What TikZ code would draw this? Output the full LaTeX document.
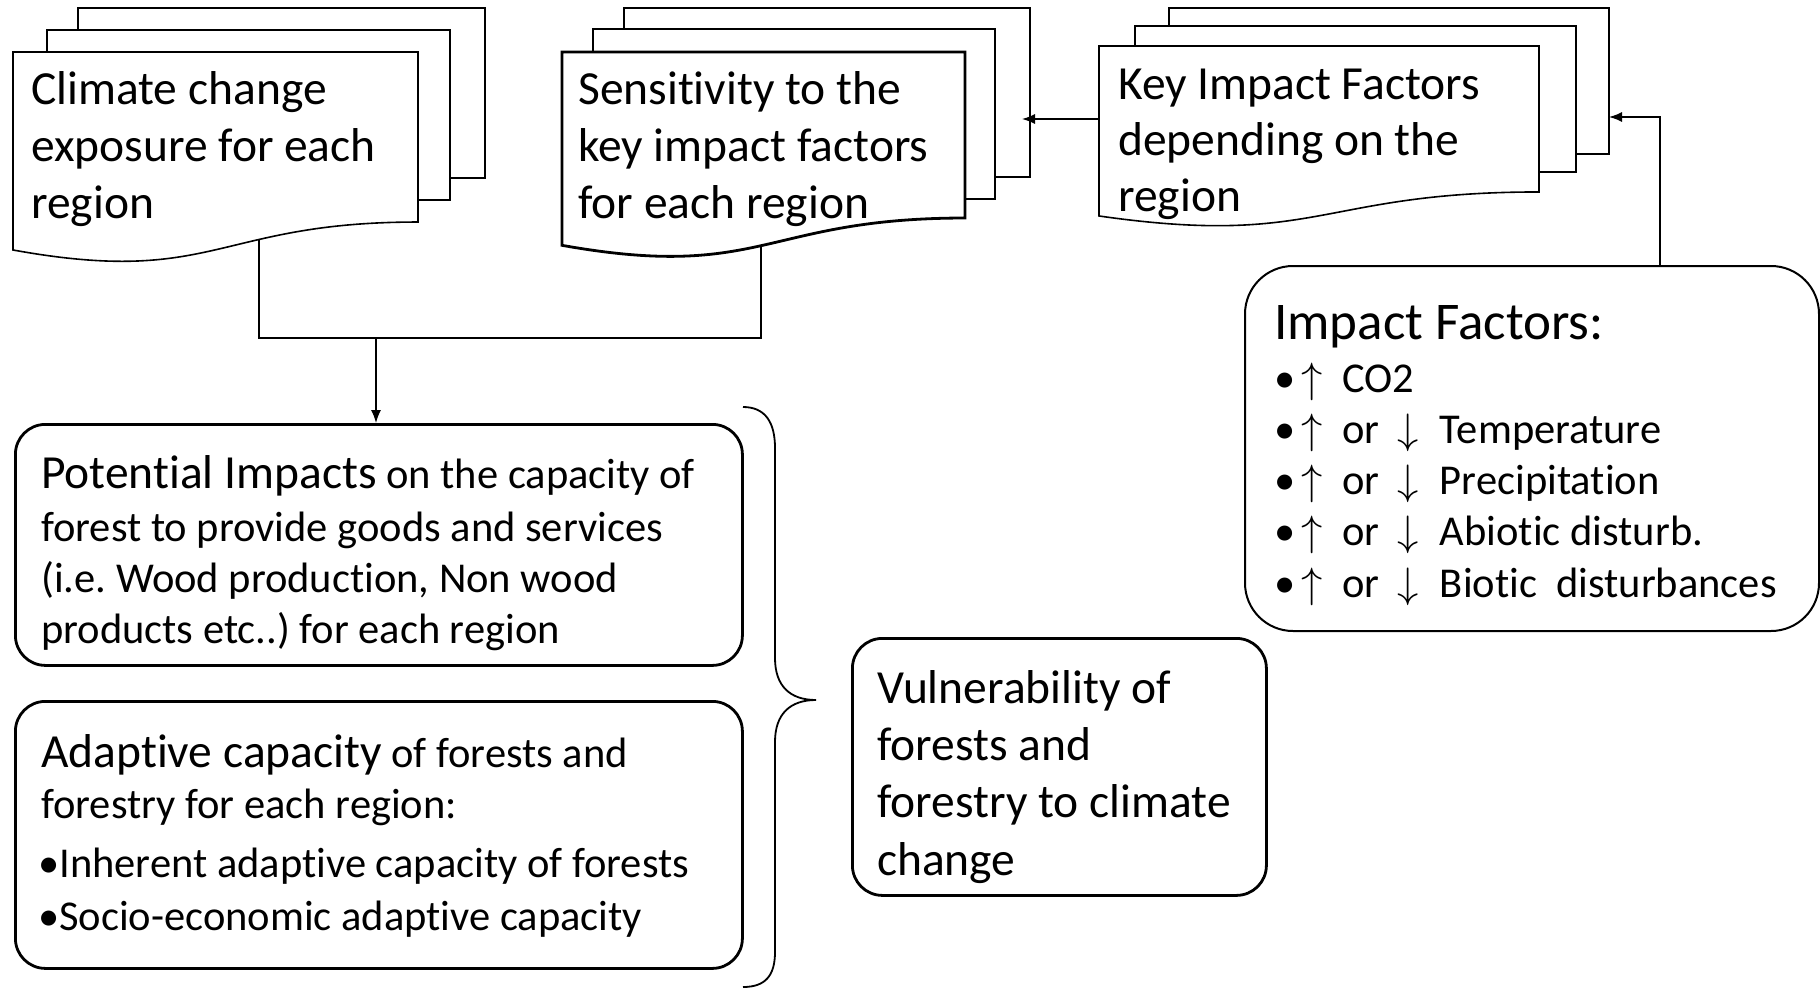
\documentclass[tikz,border=0pt]{standalone}
\usepackage{fix-cm}
\usepackage{fontspec}
\setmainfont[Ligatures=NoCommon]{Carlito}
\usetikzlibrary{arrows.meta}
\newcommand\docpage[5]{%
  \pgfmathsetmacro\dR{#2+#4}\pgfmathsetmacro\dM{#2+#4/2}%
  \pgfmathsetmacro\dRb{#3+0.802*#5}\pgfmathsetmacro\dCb{#3+1.1075*#5}\pgfmathsetmacro\dLb{#3+0.9339*#5}%
  \draw[#1] (#2,#3) -- (\dR,#3) -- (\dR,\dRb) .. controls (\dM,\dRb) and (\dM,\dCb) .. (#2,\dLb) -- cycle;}
\newcommand\up{\kern6pt$\uparrow$\kern10pt\ }
\newcommand\dn{\ \kern8pt$\downarrow$\kern12pt\ }
\frenchspacing
\begin{document}
\begin{tikzpicture}[x=1pt,y=-1pt,
  doc/.style={draw=black,fill=white,line width=1.6pt},
  docthick/.style={draw=black,fill=white,line width=2.8pt},
  rbox/.style={draw=black,line width=2.8pt,rounded corners=30pt,anchor=north west,inner sep=0pt},
  conn/.style={line width=1.4pt},
  arr/.style={conn,-{Latex[length=13pt,width=10pt]}},
  big/.style={font=\fontsize{47.5}{57}\selectfont,anchor=base west,inner sep=0pt},
  small/.style={font=\fontsize{42.5}{52}\selectfont,anchor=base west,inner sep=0pt},
  head/.style={font=\fontsize{53}{60}\selectfont,anchor=base west,inner sep=0pt},
  brace/.style={line width=1.8pt}]
\useasboundingbox (0,0) rectangle (1820,988);

% connectors (drawn first; document fills hide the inner parts)
\coordinate (c1) at (259,200);
\coordinate (c2) at (761,200);
\coordinate (jl) at (259,338);
\coordinate (jr) at (761,338);
\coordinate (ja) at (376,338);
\draw[conn] (c1) -- (jl) -- (jr) -- (c2);

% boxes
\node[rbox,minimum width=727pt,minimum height=241pt] (pot) at (14,423) {};
\node[rbox,minimum width=727pt,minimum height=267pt] (ada) at (14,700) {};
\node[rbox,minimum width=414pt,minimum height=257pt] (vul) at (851,637) {};
\node[rbox,line width=2pt,rounded corners=48pt,minimum width=574pt,minimum height=365pt] (imp) at (1244,265) {};

\draw[arr] (ja) -- (ja |- pot.north);

% document stack 1
\draw[doc] (78,8) rectangle (485,178);
\draw[doc] (47,30) rectangle (450,200);
\docpage{doc}{13}{52}{405}{212}
% document stack 2
\draw[docthick] (624,8) rectangle (1030,177);
\draw[docthick] (593,29) rectangle (995,199);
\docpage{docthick}{562}{52}{403}{207}
% document stack 3
\draw[doc] (1169,8) rectangle (1609,154);
\draw[doc] (1135,26) rectangle (1576,172);
\docpage{doc}{1099}{46}{440}{182}

% arrows at top
\coordinate (kiL) at (1099,119);
\coordinate (sensR) at (1022,119);
\draw[arr] (kiL) -- (sensR);
\coordinate (ifx) at (1660,117);
\coordinate (kiR) at (1609,117);
\draw[arr] (ifx |- imp.north) -- (ifx) -- (kiR);

% texts of documents
\node[big] (d1a) at (31,104) {Climate change};
\node[big] (d1b) at (31,161) {exposure for each};
\node[big] (d1c) at (31,218) {region};
\node[big] (d2a) at (578,104) {Sensitivity to the};
\node[big] (d2b) at (578,161) {key impact factors};
\node[big] (d2c) at (578,218) {for each region};
\node[big] (d3a) at (1118,99) {Key Impact Factors};
\node[big] (d3b) at (1118,155) {depending on the};
\node[big] (d3c) at (1118,211) {region};

% potential impacts
\node[big] (p1) at (41,488) {Potential Impacts{\fontsize{42.5}{52}\selectfont\ on the capacity of}};
\node[small] (p2) at (41,541) {forest to provide goods and services};
\node[small] (p3) at (41,592) {(i.e. Wood production, Non wood};
\node[small] (p4) at (41,643) {products etc..) for each region};

% adaptive capacity
\node[big] (a1) at (41,767) {Adaptive capacity{\fontsize{42.5}{52}\selectfont\ of forests and}};
\node[small] (a2) at (41,818) {forestry for each region:};
\node[small] (a3) at (38,877) {•Inherent adaptive capacity of forests};
\node[small] (a4) at (38,930) {•Socio-economic adaptive capacity};

% vulnerability
\node[big] (v1) at (877,703) {Vulnerability of};
\node[big] (v2) at (877,760) {forests and};
\node[big] (v3) at (877,817) {forestry to climate};
\node[big] (v4) at (877,875) {change};

% impact factors
\node[head] (i0) at (1274,339) {Impact Factors:};
\node[small] (i1) at (1274,392) {•\up CO2};
\node[small] (i2) at (1274,443) {•\up or\dn Temperature};
\node[small] (i3) at (1274,494) {•\up or\dn Precipitation};
\node[small] (i4) at (1274,545) {•\up or\dn Abiotic disturb.};
\node[small] (i5) at (1274,597) {•\up or\dn Biotic\ \ disturbances};

% brace
\draw[brace] (743,407) .. controls (765,407) and (775,422) .. (775,448)
  -- (775,658) .. controls (775,686) and (790,700) .. (816,700)
  .. controls (790,700) and (775,714) .. (775,742)
  -- (775,952) .. controls (775,976) and (765,987) .. (743,987);
\end{tikzpicture}
\end{document}
